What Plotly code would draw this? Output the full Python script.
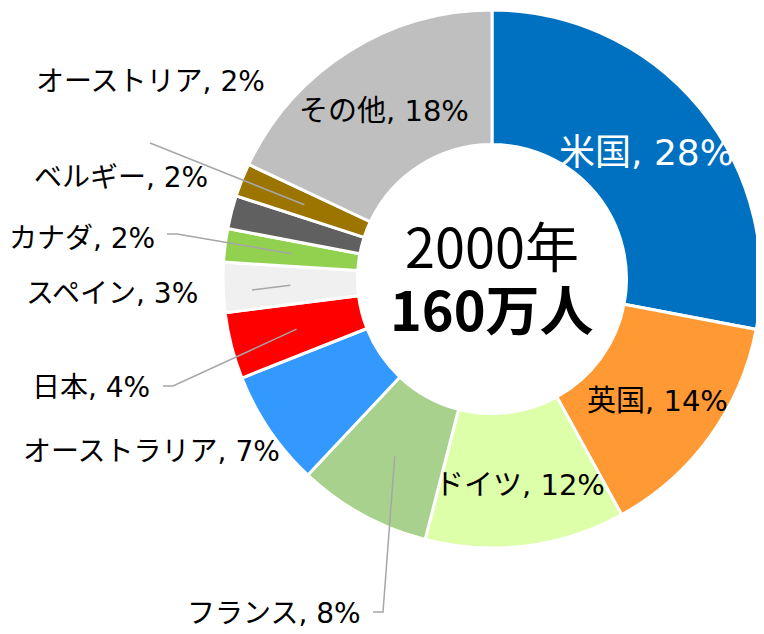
import math
import plotly.graph_objects as go

# ---- data ----
countries = ["米国", "英国", "ドイツ", "フランス", "オーストラリア", "日本",
             "スペイン", "カナダ", "ベルギー", "オーストリア", "その他"]
shares = [28, 14, 12, 8, 7, 4, 3, 2, 2, 2, 18]
center_year = "2000年"
center_total = "160万人"

# ---- styles / layout ----
colors = ["#0070C0", "#FF9933", "#DDFFAA", "#A9D18E", "#3399FF", "#FF0000",
          "#F0F0F0", "#92D050", "#606060", "#9C7400", "#BFBFBF"]
OFF = 8                      # page body margin of the browser
W, H = 764 - OFF, 634 - OFF
CX, CY, R = 492, 279, 269
HOLE = 0.5
LABEL_FONT = "DejaVu Sans, Noto Sans CJK JP"
CENTER_FONT = "Noto Sans CJK JP"

# label anchor (pixels), x anchor, font size, colour
label_pos = [(646, 152), (657, 401), (520, 485), (363, 613), (282, 451), (152, 387),
             (200, 293), (157, 238), (210, 178), (150, 82), (384, 111)]
label_anchor = ["center", "center", "center", "right", "right", "right",
                "right", "right", "right", "center", "center"]
label_size = [36, 29, 29, 28, 28, 28, 28, 28, 28, 28, 29]
label_color = ["white"] + ["black"] * 10
# leader line start points (pixels); None means no leader line
leader_start = [None, None, None, [(373, 612), (383, 612)], None,
                [(163, 386), (173, 386)], [(252, 290)],
                [(167, 234), (177, 234)], None, [(150, 143)], None]


def px(x):
    return (x - OFF) / W


def py(y):
    return 1 - (y - OFF) / H


fig = go.Figure()
fig.add_trace(go.Pie(
    labels=countries, values=shares, sort=False, direction="clockwise",
    rotation=0, hole=HOLE, textinfo="none",
    marker=dict(colors=colors, line=dict(color="white", width=3)),
    domain=dict(x=[px(CX - R), px(CX + R)], y=[py(CY + R), py(CY - R)]),
    showlegend=False,
))

total = sum(shares)
cum = 0
annotations = []
shapes = []
mid_r = R * (1 + HOLE) / 2
for i, (name, v) in enumerate(zip(countries, shares)):
    mid = (cum + v / 2) / total * 2 * math.pi
    cum += v
    ex = CX + mid_r * math.sin(mid)
    ey = CY - mid_r * math.cos(mid)
    lx, ly = label_pos[i]
    annotations.append(dict(
        x=px(lx), y=py(ly), xref="paper", yref="paper", showarrow=False,
        text=f"{name}, {v}%", xanchor=label_anchor[i], yanchor="middle",
        font=dict(family=LABEL_FONT, size=label_size[i], color=label_color[i])))
    if leader_start[i]:
        pts = leader_start[i] + [(ex, ey)]
        path = "M " + " L ".join(f"{px(a)},{py(b)}" for a, b in pts)
        shapes.append(dict(type="path", xref="paper", yref="paper", path=path,
                           line=dict(color="#A6A6A6", width=1.5)))

annotations.append(dict(x=px(CX), y=py(244), xref="paper", yref="paper",
                        showarrow=False, text=center_year,
                        font=dict(family=CENTER_FONT, size=54, color="black")))
annotations.append(dict(x=px(CX), y=py(307), xref="paper", yref="paper",
                        showarrow=False, text=f"<b>{center_total}</b>",
                        font=dict(family=CENTER_FONT, size=54, color="black")))

fig.update_layout(
    width=W, height=H, margin=dict(l=0, r=0, t=0, b=0),
    paper_bgcolor="white", plot_bgcolor="white",
    annotations=annotations, shapes=shapes,
    font=dict(family=LABEL_FONT),
)
fig.write_html("out.html")
